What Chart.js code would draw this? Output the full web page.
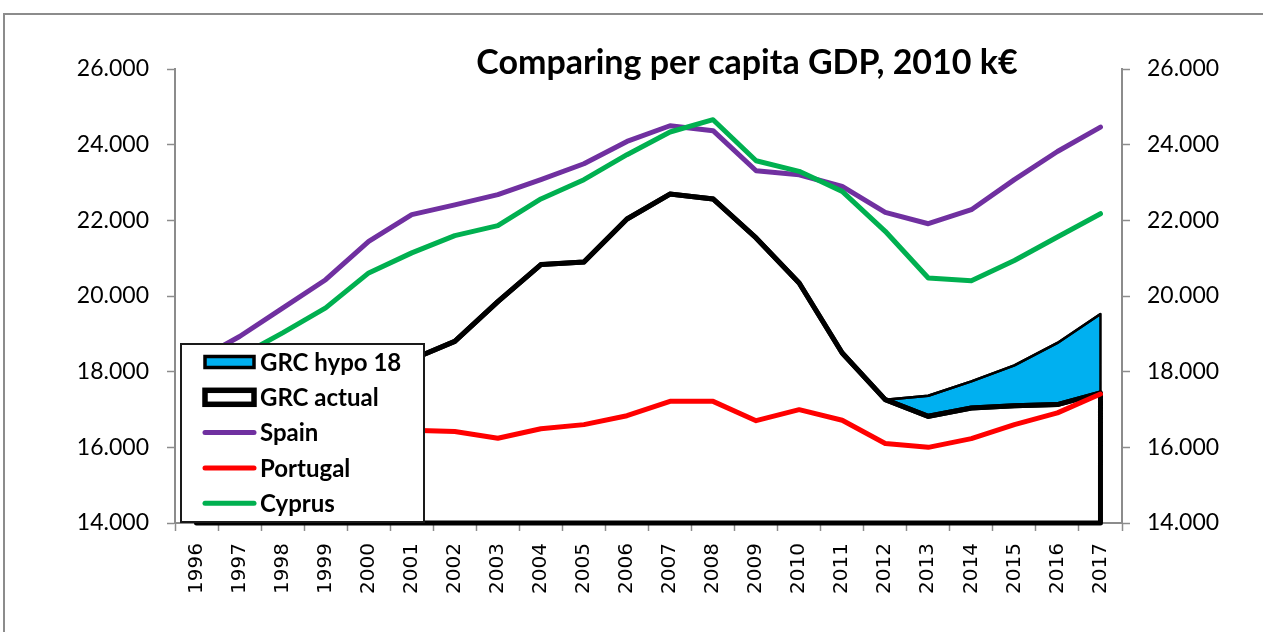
<!DOCTYPE html>
<html>
<head>
<meta charset="utf-8">
<title>Comparing per capita GDP, 2010 k€</title>
<script src="https://cdn.jsdelivr.net/npm/chart.js@4.4.1/dist/chart.umd.min.js"></script>
<style>
  html, body { margin: 0; padding: 0; background: #fff; }
  canvas { display: block; }
</style>
</head>
<body>
<canvas id="gdpChart" width="1263" height="632"></canvas>
<script>
// Per capita GDP, constant 2010 prices (EUR)
const years = ['1996', '1997', '1998', '1999', '2000', '2001', '2002', '2003', '2004', '2005', '2006',
  '2007', '2008', '2009', '2010', '2011', '2012', '2013', '2014', '2015', '2016', '2017'];

const grcHypo = [null, null, null, null, null, null, null, null, null, null, null,
  null, null, null, null, null, 17260, 17365, 17745, 18165, 18760, 19525];
const grcActual = [15600, 16100, 16600, 17100, 17800, 18320, 18800, 19850, 20830, 20900, 22035,
  22695, 22565, 21535, 20345, 18495, 17260, 16820, 17040, 17100, 17130, 17440];
const spain = [18300, 18930, 19680, 20430, 21445, 22150, 22410, 22680, 23075, 23495, 24085,
  24500, 24370, 23310, 23205, 22895, 22210, 21910, 22280, 23075, 23820, 24465];
const portugal = [14020, 14550, 15100, 15600, 16100, 16450, 16420, 16240, 16490, 16600, 16835,
  17215, 17215, 16705, 16995, 16715, 16100, 16000, 16230, 16600, 16910, 17410];
const cyprus = [18200, 18400, 19025, 19685, 20610, 21140, 21595, 21860, 22565, 23075, 23735,
  24335, 24660, 23575, 23295, 22765, 21710, 20475, 20405, 20940, 21560, 22175];

const yTickValues = [14000, 16000, 18000, 20000, 22000, 24000, 26000];

const AXIS_GREY = '#8c8c8c';
const fmtThousands = v => String(v).replace(/\B(?=(\d{3})+(?!\d))/g, '.');

// white page + grey frame round the chart object
const chartFrame = {
  id: 'chartFrame',
  beforeDraw(chart) {
    const ctx = chart.ctx;
    ctx.save();
    ctx.fillStyle = '#fff';
    ctx.fillRect(0, 0, chart.width, chart.height);
    ctx.strokeStyle = AXIS_GREY;
    ctx.lineWidth = 2;
    ctx.beginPath();
    ctx.moveTo(4, chart.height);
    ctx.lineTo(4, 14);
    ctx.lineTo(chart.width, 14);
    ctx.stroke();
    ctx.restore();
  }
};

// area series get a closed border down to the axis, like a spreadsheet area chart
const areaOutline = {
  id: 'areaOutline',
  afterDatasetDraw(chart, args) {
    const ds = chart.data.datasets[args.index];
    if (!ds.outline) return;
    const pts = args.meta.data.filter(p => !p.skip);
    if (!pts.length) return;
    const y = chart.scales.y;
    const base = y.getPixelForValue(y.min);
    const ctx = chart.ctx;
    ctx.save();
    ctx.beginPath();
    ctx.moveTo(pts[0].x, base);
    pts.forEach(p => ctx.lineTo(p.x, p.y));
    ctx.lineTo(pts[pts.length - 1].x, base);
    ctx.closePath();
    ctx.lineWidth = ds.borderWidth;
    ctx.strokeStyle = ds.borderColor;
    ctx.lineJoin = 'round';
    ctx.stroke();
    ctx.restore();
  }
};

const chartTitle = {
  id: 'chartTitle',
  afterDraw(chart, args, opts) {
    const ctx = chart.ctx;
    ctx.save();
    ctx.font = 'bold 34px Lato';
    ctx.fillStyle = '#000';
    ctx.textAlign = 'center';
    ctx.textBaseline = 'alphabetic';
    ctx.fillText(opts.text, 747, 74);
    ctx.restore();
  }
};

// boxed legend sitting inside the plot, bottom-left
const boxLegend = {
  id: 'boxLegend',
  afterDraw(chart) {
    const { ctx, chartArea } = chart;
    const left = chartArea.left + 6, width = 243, height = 178;
    const top = chartArea.bottom - height - 1;
    ctx.save();
    ctx.fillStyle = '#fff';
    ctx.fillRect(left, top, width, height);
    ctx.strokeStyle = '#1a1a1a';
    ctx.lineWidth = 2;
    ctx.strokeRect(left, top, width, height);

    const x1 = left + 24, x2 = left + 73;
    ctx.font = 'bold 24px Lato';
    ctx.textBaseline = 'middle';
    chart.data.datasets.forEach((ds, i) => {
      const cy = top + 18 + i * 35.3;
      if (ds.outline) {
        const h = ds.borderWidth > 4 ? 14 : 11;
        ctx.fillStyle = ds.backgroundColor;
        ctx.fillRect(x1, cy - h / 2, x2 - x1, h);
        ctx.lineWidth = ds.borderWidth > 4 ? 5.5 : 3.5;
        ctx.strokeStyle = ds.borderColor;
        ctx.strokeRect(x1, cy - h / 2, x2 - x1, h);
      } else {
        ctx.beginPath();
        ctx.moveTo(x1, cy);
        ctx.lineTo(x2, cy);
        ctx.lineWidth = 5;
        ctx.lineCap = 'round';
        ctx.strokeStyle = ds.borderColor;
        ctx.stroke();
      }
      ctx.fillStyle = '#000';
      ctx.fillText(ds.label, x2 + 6, cy + 1);
    });
    ctx.restore();
  }
};

const valueAxis = (position, width, pad) => ({
  type: 'linear',
  position,
  min: yTickValues[0],
  max: yTickValues[yTickValues.length - 1],
  afterBuildTicks: s => { s.ticks = yTickValues.map(v => ({ value: v })); },
  afterFit: s => { s.width = width; s.paddingTop = 0; s.paddingBottom = 0; },
  border: { color: AXIS_GREY, width: 2 },
  grid: { drawOnChartArea: false, tickLength: 8, tickColor: AXIS_GREY, tickWidth: 1.5 },
  ticks: {
    padding: pad,
    color: '#000',
    font: { family: 'Lato', size: 23 },
    callback: v => fmtThousands(v)
  }
});

const lineStyle = color => ({
  borderColor: color,
  borderWidth: 5,
  pointRadius: 0,
  fill: false,
  borderJoinStyle: 'round',
  borderCapStyle: 'round',
  tension: 0
});

new Chart(document.getElementById('gdpChart'), {
  type: 'line',
  data: {
    labels: years,
    datasets: [
      { label: 'GRC hypo 18', data: grcHypo, order: 5, outline: true, fill: 'start',
        backgroundColor: '#00b0f0', borderColor: '#000', borderWidth: 2.5, pointRadius: 0 },
      { label: 'GRC actual', data: grcActual, order: 4, outline: true, fill: 'start',
        backgroundColor: '#fff', borderColor: '#000', borderWidth: 5, pointRadius: 0 },
      { label: 'Spain', data: spain, order: 3, ...lineStyle('#7030a0') },
      { label: 'Portugal', data: portugal, order: 2, ...lineStyle('#ff0000') },
      { label: 'Cyprus', data: cyprus, order: 1, ...lineStyle('#00b050') }
    ]
  },
  options: {
    responsive: false,
    animation: false,
    layout: { padding: { top: 69, left: 0, right: 0, bottom: 0 } },
    plugins: {
      legend: { display: false },
      tooltip: { enabled: false },
      title: { display: false },
      chartTitle: { text: 'Comparing per capita GDP, 2010 k€' }
    },
    scales: {
      x: {
        offset: true,
        afterFit: s => { s.height = 109; s.paddingLeft = 0; s.paddingRight = 0; },
        border: { color: AXIS_GREY, width: 2 },
        grid: { offset: true, drawOnChartArea: false, tickLength: 8, tickColor: AXIS_GREY, tickWidth: 1.5 },
        ticks: {
          autoSkip: false,
          minRotation: 90,
          maxRotation: 90,
          padding: 12,
          color: '#000',
          font: { family: 'DejaVu Sans', size: 20 }
        }
      },
      y: valueAxis('left', 175, 18),
      y2: valueAxis('right', 141, 17)
    }
  },
  plugins: [chartFrame, areaOutline, chartTitle, boxLegend]
});
</script>
</body>
</html>
